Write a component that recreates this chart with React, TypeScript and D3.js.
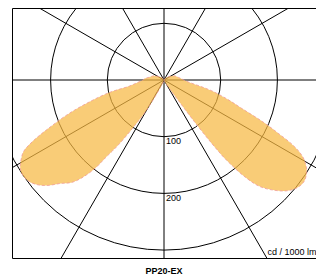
import React from 'react'
import * as d3 from 'd3'

// gamma angles (deg from nadir) and intensities in cd / 1000 lm
const gammas = [0, 10, 20, 25, 30, 33, 35, 36, 37, 38, 40, 42, 45, 48, 51, 54, 57, 59, 61, 63, 65, 67, 70, 73, 77, 80, 85, 90, 95, 100, 110, 120, 135, 150, 180]
const rightPlane = [0, 0, 1, 4, 10, 22, 45, 85, 140, 180, 225, 253, 275, 292, 302, 305, 300, 292, 280, 258, 222, 190, 145, 118, 88, 66, 44, 35, 30, 26, 21, 13, 6, 2, 0]
const leftPlane = [0, 0, 3, 12, 60, 100, 138, 155, 172, 198, 225, 243, 258, 278, 292, 299, 300, 296, 288, 278, 255, 225, 185, 145, 100, 62, 46, 37, 33, 27, 21, 13, 6, 2, 0]

const rings = [100, 200, 300]
const ringLabels = ['100', '200']
const spokes = [0, 30, 60, 90, 120, 150]
const title = 'PP20-EX'
const unit = 'cd / 1000 lm'

const W = 316
const H = 276
const frame = { left: 12.5, top: 8.5, right: 330, bottom: 258.5 }
const cx = 164
const cy = 80

const App = () => {
  const r = d3.scaleLinear().domain([0, 100]).range([0, 56.7])

  // left side goes from 180 down to 0, right side back from 0 up to 180
  const pts: [number, number][] = []
  for (let i = gammas.length - 1; i >= 1; i--) {
    pts.push([Math.PI + (gammas[i] * Math.PI) / 180, r(leftPlane[i])])
  }
  for (let i = 0; i < gammas.length - 1; i++) {
    pts.push([Math.PI - (gammas[i] * Math.PI) / 180, r(rightPlane[i])])
  }
  const curve = d3
    .lineRadial<[number, number]>()
    .angle(d => d[0])
    .radius(d => d[1])
    .curve(d3.curveCatmullRomClosed.alpha(0.5))

  const font = 'Liberation Sans, Arial, sans-serif'

  return (
    <svg width={W} height={H} style={{ position: 'absolute', left: 0, top: 0 }}>
      <defs>
        <clipPath id="frameClip">
          <rect x={frame.left} y={frame.top} width={frame.right - frame.left} height={frame.bottom - frame.top} />
        </clipPath>
      </defs>
      <rect width={W} height={H} fill="#fff" />
      <g clipPath="url(#frameClip)">
        {rings.map(v => (
          <circle key={v} cx={cx} cy={cy} r={r(v)} fill="none" stroke="#000" strokeWidth={1} />
        ))}
        {spokes.map(a => {
          const t = (a * Math.PI) / 180
          const L = 500
          return (
            <line
              key={a}
              x1={cx - L * Math.cos(t)}
              y1={cy - L * Math.sin(t)}
              x2={cx + L * Math.cos(t)}
              y2={cy + L * Math.sin(t)}
              stroke="#000"
              strokeWidth={1}
            />
          )
        })}
        <path
          d={curve(pts) || ''}
          transform={`translate(${cx},${cy})`}
          fill="#f7b943"
          fillOpacity={0.72}
          stroke="#f09a9a"
          strokeWidth={0.8}
          strokeDasharray="3,2"
        />
      </g>
      <path
        d={`M${frame.right},${frame.top}H${frame.left}V${frame.bottom}H${frame.right}`}
        fill="none"
        stroke="#000"
        strokeWidth={1}
      />
      {ringLabels.map((t, i) => (
        <text key={t} x={cx + 2} y={cy + r(rings[i]) + 7.5} fontFamily={font} fontSize={9} fill="#000">
          {t}
        </text>
      ))}
      <text x={267.5} y={255} fontFamily={font} fontSize={9} fill="#000">
        {unit}
      </text>
      <text x={cx} y={274.3} textAnchor="middle" fontFamily={font} fontSize={9} fontWeight="bold" fill="#000">
        {title}
      </text>
    </svg>
  )
}

export default App
